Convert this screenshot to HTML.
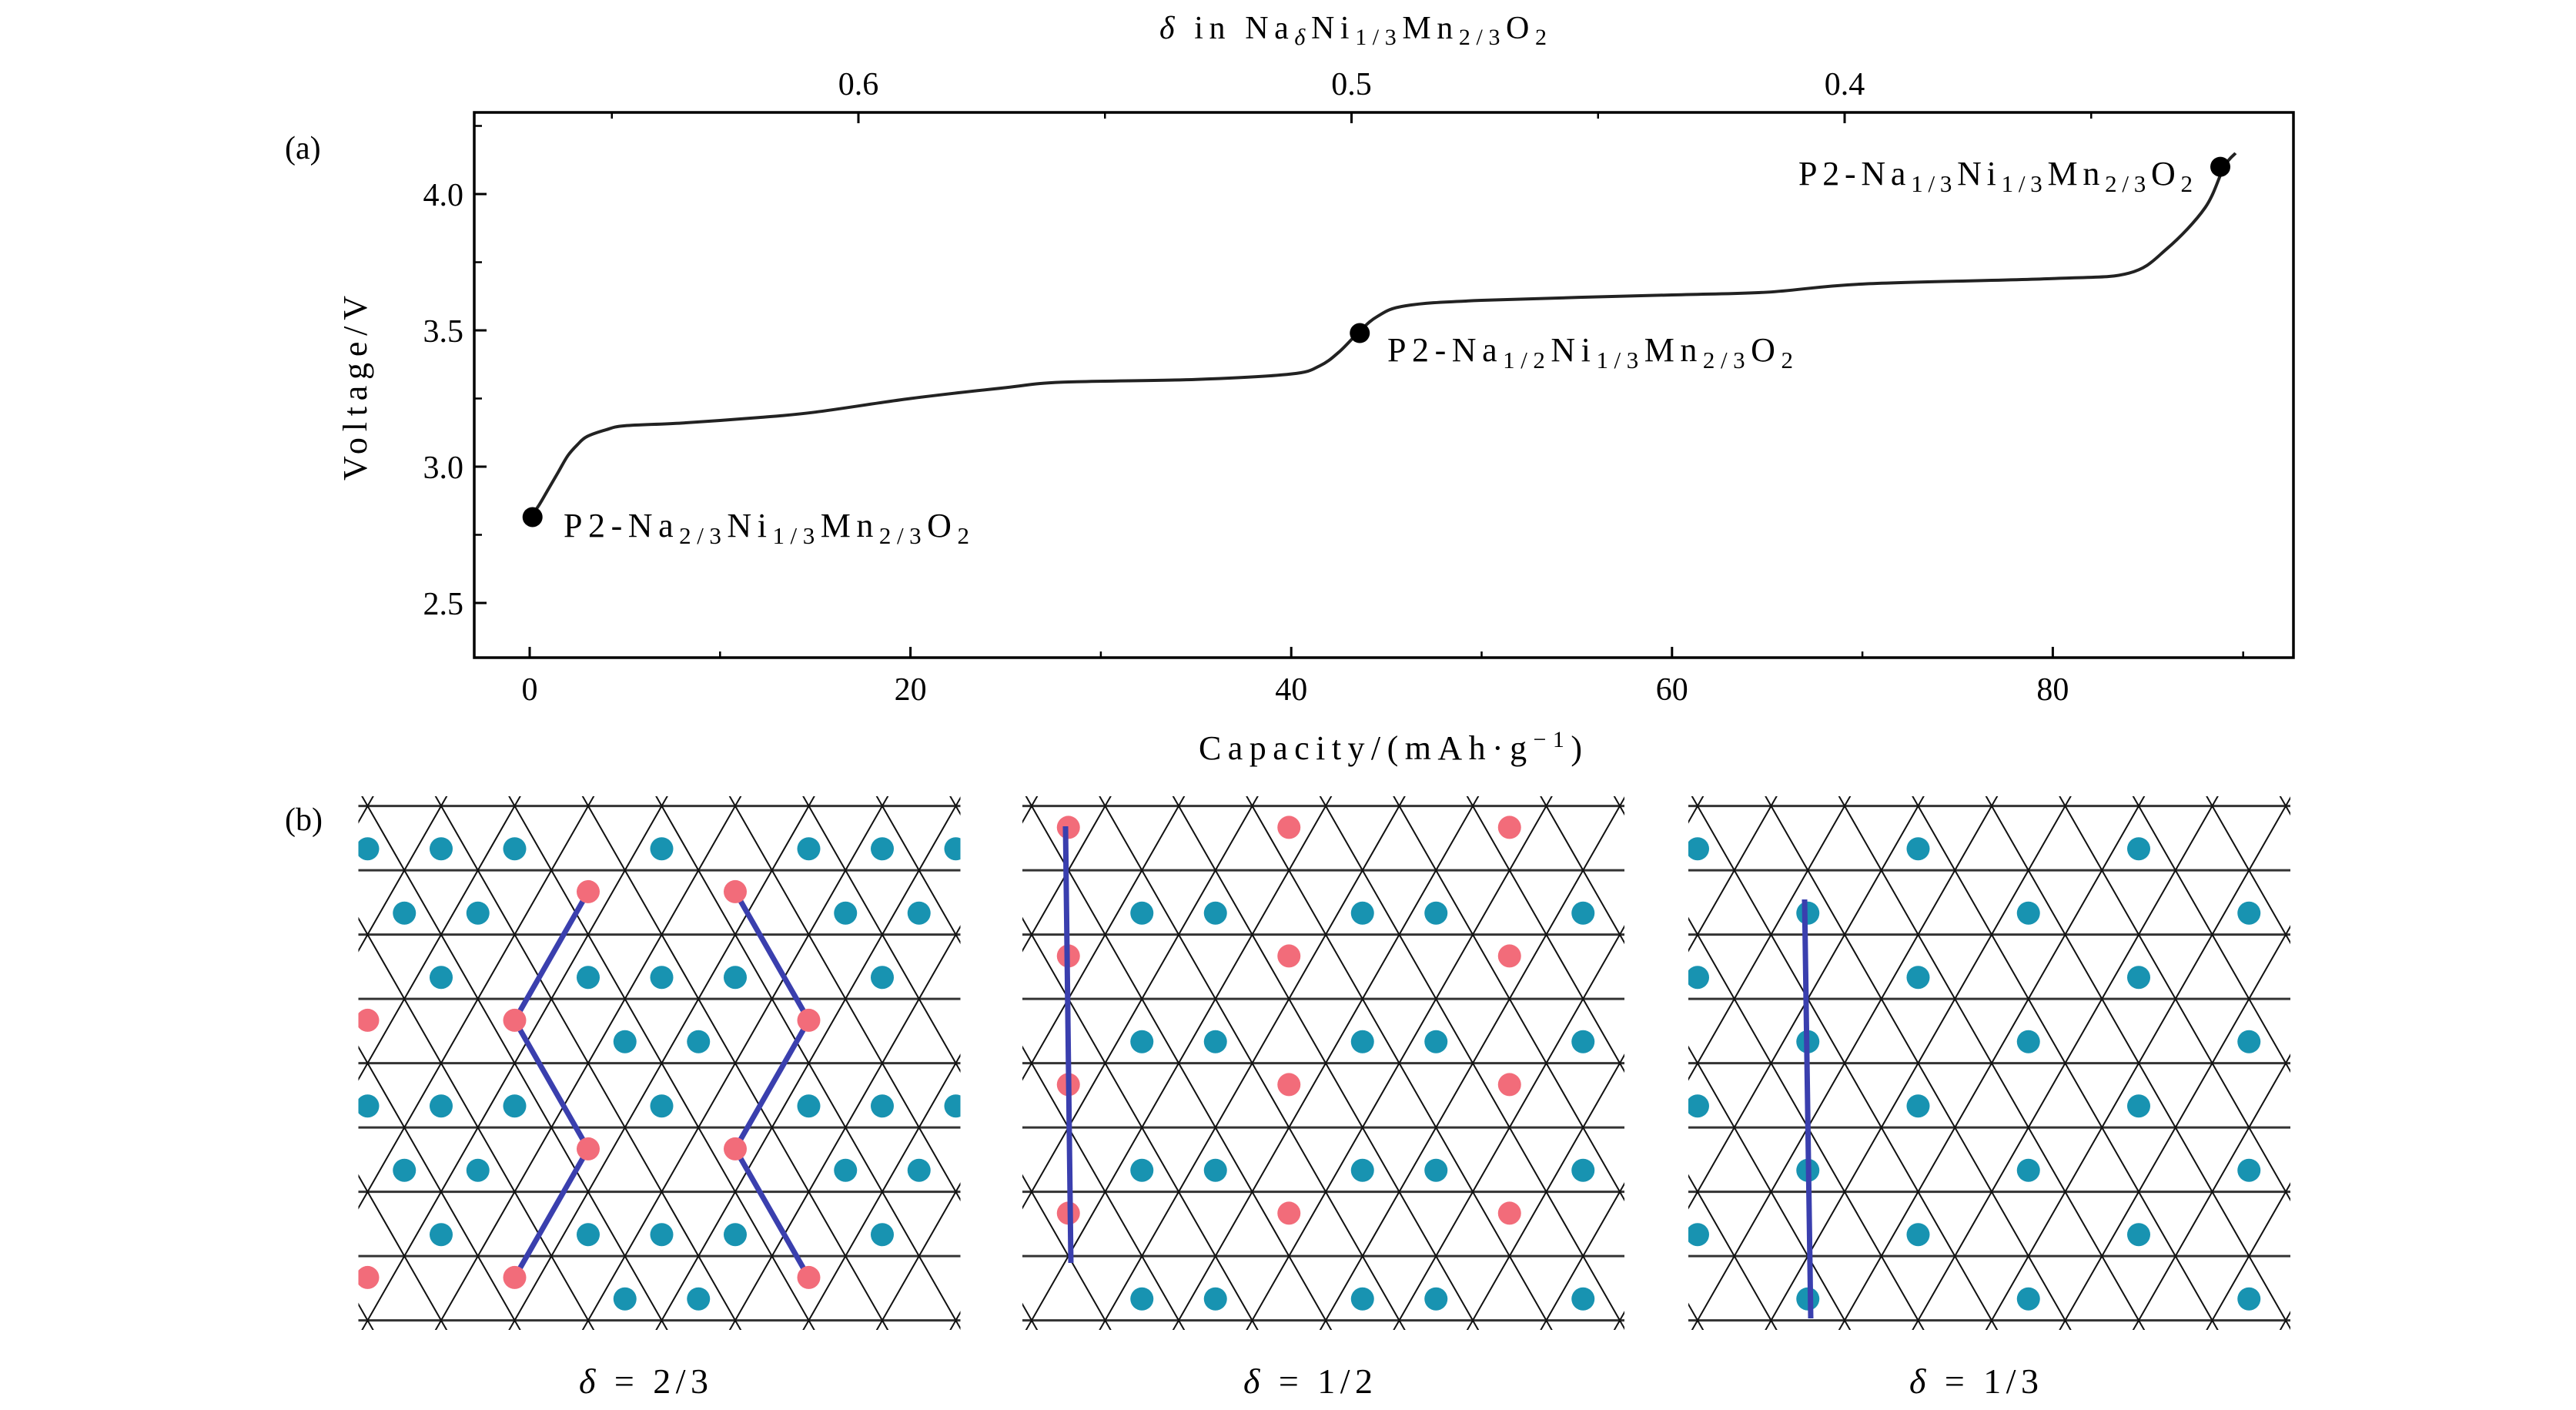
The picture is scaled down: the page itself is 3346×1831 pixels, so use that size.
<!DOCTYPE html>
<html><head><meta charset="utf-8"><style>
html,body{margin:0;padding:0;background:#fff;}
svg{display:block;font-family:"Liberation Serif",serif;}
</style></head><body>
<svg id="fig" width="3346" height="1831" viewBox="0 0 3346 1831" xmlns="http://www.w3.org/2000/svg">
<g id="chartA"></g>
<g id="panelB"></g>
</svg>
<script>
// ---- chart (a) data ----
const capacity = [0,0.5,1,1.5,2,2.5,3,4,5,8,12,15,20,25,28,35,40,41.5,42.5,43.5,44.5,46,50,60,65,70,80,84,86,88,89,89.6];
const voltage  = [2.81,2.86,2.92,2.98,3.04,3.08,3.11,3.135,3.15,3.16,3.18,3.2,3.25,3.29,3.31,3.32,3.34,3.37,3.42,3.49,3.55,3.59,3.61,3.63,3.64,3.67,3.69,3.71,3.8,3.95,4.1,4.15];
const markerCap = [0.15,43.6,88.8];
const markerV = [2.815,3.49,4.1];
const xTicks = [0,20,40,60,80];
const xMinor = [10,30,50,70,90];
const yTicks = [2.5,3.0,3.5,4.0];
const yMinor = [2.75,3.25,3.75,4.25];
const topTicks = [0.6,0.5,0.4];
const topMinor = [0.65,0.55,0.45,0.35];

const NS="http://www.w3.org/2000/svg";
function mk(tag,attrs,parent){const e=document.createElementNS(NS,tag);for(const k in attrs)e.setAttribute(k,attrs[k]);parent.appendChild(e);return e;}

const L=616,R=2979,T=146,B=854;
const X=c=>688+c*24.73;
const Y=v=>252+(4.0-v)*354;
const D=d=>X((2/3-d)*259);

const A=document.getElementById('chartA');
let frame=mk('rect',{x:L,y:T,width:R-L,height:B-T,fill:'none',stroke:'#000','stroke-width':3.5},A);



xTicks.forEach(t=>{
  let l=mk('line',{x1:X(t),x2:X(t),y1:B,y2:B-14,stroke:'#000','stroke-width':3},A);
  
  
  let tx=mk('text',{x:X(t),y:B+55,'font-size':42,'text-anchor':'middle'},A);tx.textContent=t;
  
  
});
xMinor.forEach(t=>{mk('line',{x1:X(t),x2:X(t),y1:B,y2:B-8,stroke:'#000','stroke-width':2.5},A);});
yTicks.forEach(t=>{
  let l=mk('line',{x1:L,x2:L+16,y1:Y(t),y2:Y(t),stroke:'#000','stroke-width':3},A);
  
  
  let tx=mk('text',{x:L-14,y:Y(t)+15,'font-size':42,'text-anchor':'end'},A);tx.textContent=t.toFixed(1);
  
  
});
yMinor.forEach(t=>{mk('line',{x1:L,x2:L+10,y1:Y(t),y2:Y(t),stroke:'#000','stroke-width':2.5},A);});
topTicks.forEach(t=>{
  let l=mk('line',{x1:D(t),x2:D(t),y1:T,y2:T+14,stroke:'#000','stroke-width':3},A);
  
  
  let tx=mk('text',{x:D(t),y:T-23,'font-size':42,'text-anchor':'middle'},A);tx.textContent=t.toFixed(1);
  
  
});
topMinor.forEach(t=>{mk('line',{x1:D(t),x2:D(t),y1:T,y2:T+8,stroke:'#000','stroke-width':2.5},A);});

// curve
let dpts=capacity.map((c,i)=>[X(c),Y(voltage[i])]);
let dstr='M'+dpts[0][0]+','+dpts[0][1];
for(let i=1;i<dpts.length;i++){
  const p0=dpts[Math.max(0,i-2)],p1=dpts[i-1],p2=dpts[i],p3=dpts[Math.min(dpts.length-1,i+1)];
  const c1=[p1[0]+(p2[0]-p0[0])/6,p1[1]+(p2[1]-p0[1])/6],c2=[p2[0]-(p3[0]-p1[0])/6,p2[1]-(p3[1]-p1[1])/6];
  dstr+=` C${c1[0]},${c1[1]} ${c2[0]},${c2[1]} ${p2[0]},${p2[1]}`;
}
let curve=mk('path',{d:dstr,fill:'none',stroke:'#222','stroke-width':4},A);


markerCap.forEach((c,i)=>{
  let m=mk('circle',{cx:X(c),cy:Y(markerV[i]),r:13,fill:'#000'},A);
  
  
});
</script>
<script>
(function(){
const A=document.getElementById('chartA');
A.insertAdjacentHTML('beforeend',`
<text x="370" y="206" font-size="42">(a)</text>
<text transform="translate(476,504) rotate(-90)" font-size="44" text-anchor="middle" textLength="240" lengthAdjust="spacing">Voltage/V</text>
<text x="1557" y="986" font-size="44" textLength="498" lengthAdjust="spacing">Capacity/(mAh·g<tspan dy="-16" font-size="30">−1</tspan><tspan dy="16">)</tspan></text>
<text x="1506" y="50" font-size="42" textLength="503" lengthAdjust="spacing"><tspan font-style="italic">δ</tspan> in Na<tspan dy="8" font-size="30" font-style="italic">δ</tspan><tspan dy="-8">Ni</tspan><tspan dy="8" font-size="30">1/3</tspan><tspan dy="-8">Mn</tspan><tspan dy="8" font-size="30">2/3</tspan><tspan dy="-8">O</tspan><tspan dy="8" font-size="30">2</tspan></text>
<text x="732" y="697" font-size="44" textLength="527" lengthAdjust="spacing">P2-Na<tspan dy="9" font-size="31">2/3</tspan><tspan dy="-9">Ni</tspan><tspan dy="9" font-size="31">1/3</tspan><tspan dy="-9">Mn</tspan><tspan dy="9" font-size="31">2/3</tspan><tspan dy="-9">O</tspan><tspan dy="9" font-size="31">2</tspan></text>
<text x="1802" y="469" font-size="44" textLength="527" lengthAdjust="spacing">P2-Na<tspan dy="9" font-size="31">1/2</tspan><tspan dy="-9">Ni</tspan><tspan dy="9" font-size="31">1/3</tspan><tspan dy="-9">Mn</tspan><tspan dy="9" font-size="31">2/3</tspan><tspan dy="-9">O</tspan><tspan dy="9" font-size="31">2</tspan></text>
<text x="2336" y="240" font-size="44" textLength="512" lengthAdjust="spacing">P2-Na<tspan dy="9" font-size="31">1/3</tspan><tspan dy="-9">Ni</tspan><tspan dy="9" font-size="31">1/3</tspan><tspan dy="-9">Mn</tspan><tspan dy="9" font-size="31">2/3</tspan><tspan dy="-9">O</tspan><tspan dy="9" font-size="31">2</tspan></text>
<text x="370" y="1078" font-size="42">(b)</text>
<text x="752" y="1809" font-size="46" textLength="168" lengthAdjust="spacing"><tspan font-style="italic">δ</tspan> = 2/3</text>
<text x="1615" y="1809" font-size="46" textLength="168" lengthAdjust="spacing"><tspan font-style="italic">δ</tspan> = 1/2</text>
<text x="2480" y="1809" font-size="46" textLength="168" lengthAdjust="spacing"><tspan font-style="italic">δ</tspan> = 1/3</text>
`);
})();
</script>
<script>
// ---- lattice panels ----
const panelX0 = [477.5,1340,2205];
const cyan1 = [[0,0],[0,1],[0,2],[0,4],[0,6],[0,7],[0,8],[1,0],[1,1],[1,6],[1,7],[2,1],[2,3],[2,4],[2,5],[2,7],[3,3],[3,4],
               [4,0],[4,1],[4,2],[4,4],[4,6],[4,7],[4,8],[5,0],[5,1],[5,6],[5,7],[6,1],[6,3],[6,4],[6,5],[6,7],[7,3],[7,4]];
const red1 = [[1,2],[1,4],[3,-1],[3,1],[3,5],[5,2],[5,4],[7,-1],[7,1],[7,5]];
const path1a = [[1,2],[3,1],[5,2],[7,1]];
const path1b = [[1,4],[3,5],[5,4],[7,5]];
const cyan2 = [[1,1],[1,2],[1,4],[1,5],[1,7],[3,1],[3,2],[3,4],[3,5],[3,7],[5,1],[5,2],[5,4],[5,5],[5,7],[7,1],[7,2],[7,4],[7,5],[7,7]];
const red2 = [[0,0],[0,3],[0,6],[2,0],[2,3],[2,6],[4,0],[4,3],[4,6],[6,0],[6,3],[6,6]];
const cyan3 = [[0,0],[0,3],[0,6],[1,1],[1,4],[1,7],[2,0],[2,3],[2,6],[3,1],[3,4],[3,7],[4,0],[4,3],[4,6],[5,1],[5,4],[5,7],[6,0],[6,3],[6,6],[7,1],[7,4],[7,7]];

const S=95.5,H=83.5,Y0=1046.6;
const P=document.getElementById('panelB');
const lineY=b=>Y0+b*H;
const vx=(x0,b,k)=>x0+k*S+(b%2!==0?S/2:0);
const upPos=(x0,b,k)=>[vx(x0,b,k),lineY(b)+2*H/3];
const dnPos=(x0,b,k)=>[vx(x0,b,k)+S/2,lineY(b)+H/3];

function drawPanel(idx,cyan,red,paths,bluePts){
  const x0=panelX0[idx];
  const g=mk('g',{},P);
  
  
  const cid='clip'+idx;
  const cp=mk('clipPath',{id:cid},g);
  mk('rect',{x:x0-12,y:1034,width:782,height:693},cp);
  const gl=mk('g',{'clip-path':`url(#${cid})`},g);
  for(let b=0;b<=8;b++){
    let l=mk('line',{x1:x0-12,x2:x0+770,y1:lineY(b),y2:lineY(b),stroke:'#333','stroke-width':3},gl);
    
    
  }
  let d='';
  for(let b=-1;b<=8;b++){
    for(let k=-2;k<=10;k++){
      const xa=vx(x0,b,k),ya=lineY(b);
      d+=`M${xa},${ya}L${xa+S/2},${ya+H}M${xa},${ya}L${xa-S/2},${ya+H}`;
    }
  }
  mk('path',{d:d,stroke:'#111','stroke-width':2,fill:'none'},gl);
  if(paths){paths.forEach(pp=>{
    const pts=pp.map(([b,k])=>dnPos(x0,b,k));
    let pl=mk('polyline',{points:pts.map(p=>p.join(',')).join(' '),fill:'none',stroke:'#3a3fae','stroke-width':7},gl);
    
    
  });}
  cyan.forEach(([b,k])=>{
    const [cx,cy]=upPos(x0,b,k);
    let c=mk('circle',{cx:cx,cy:cy,r:15,fill:'#1893b1'},gl);
    
    
  });
  red.forEach(([b,k])=>{
    const [cx,cy]=dnPos(x0,b,k);
    let c=mk('circle',{cx:cx,cy:cy,r:15,fill:'#f26c7a'},gl);
    
    
  });
  if(bluePts){
    let l=mk('line',{x1:bluePts[0],y1:bluePts[1],x2:bluePts[2],y2:bluePts[3],stroke:'#3a3fae','stroke-width':7},gl);
    
    
  }
}
drawPanel(0,cyan1,red1,[path1a,path1b],null);
drawPanel(1,cyan2,red2,null,[1384,1073,1391,1640]);
drawPanel(2,cyan3,[],null,[2344,1168,2352,1712]);
</script>
</body></html>
